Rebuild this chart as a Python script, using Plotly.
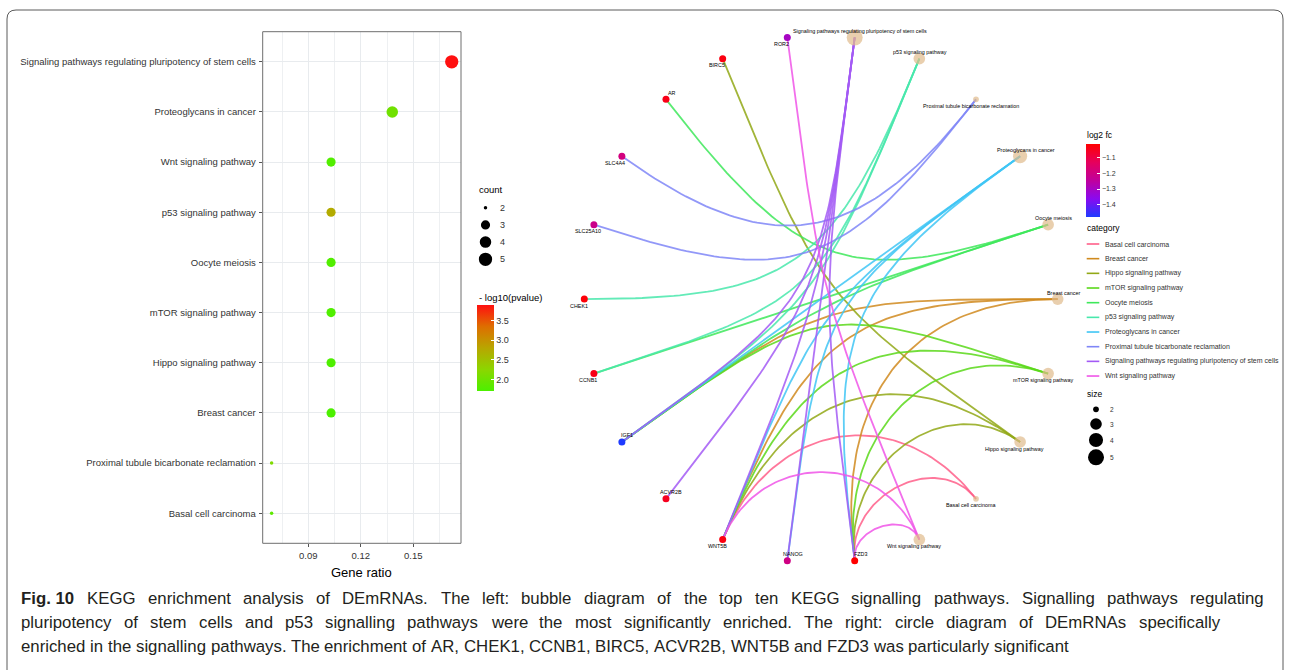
import math
import numpy as np
import plotly.graph_objects as go

W, H = 1289, 670

# ---------------- enrichment results (bubble chart) ----------------
pathways = [
    "Signaling pathways regulating pluripotency of stem cells",
    "Proteoglycans in cancer",
    "Wnt signaling pathway",
    "p53 signaling pathway",
    "Oocyte meiosis",
    "mTOR signaling pathway",
    "Hippo signaling pathway",
    "Breast cancer",
    "Proximal tubule bicarbonate reclamation",
    "Basal cell carcinoma",
]
counts = [5, 4, 3, 3, 3, 3, 3, 3, 2, 2]
gene_ratio = [0.172, 0.138, 0.103, 0.103, 0.103, 0.103, 0.103, 0.103, 0.069, 0.069]
neg_log10_p = [3.89, 2.02, 1.76, 2.74, 1.75, 1.74, 1.73, 1.71, 2.15, 1.86]

ratio_ticks = [0.09, 0.12, 0.15]
ratio_minor = [0.075, 0.105, 0.135, 0.165]
p_ticks = [2.0, 2.5, 3.0, 3.5]
count_breaks = [2, 3, 4, 5]

# ---------------- gene-pathway network ----------------
genes = ["ROR2", "BIRC5", "AR", "SLC4A4", "SLC25A10", "CHEK1",
         "CCNB1", "IGF1", "ACVR2B", "WNT5B", "NANOG", "FZD3"]
log2fc = [-1.30, -1.03, -1.04, -1.19, -1.21, -1.02,
          -1.04, -1.48, -1.05, -1.03, -1.20, -1.01]
fc_ticks = [-1.4, -1.3, -1.2, -1.1]

categories = [
    "Basal cell carcinoma",
    "Breast cancer",
    "Hippo signaling pathway",
    "mTOR signaling pathway",
    "Oocyte meiosis",
    "p53 signaling pathway",
    "Proteoglycans in cancer",
    "Proximal tubule bicarbonate reclamation",
    "Signaling pathways regulating pluripotency of stem cells",
    "Wnt signaling pathway",
]
category_genes = {
    "Signaling pathways regulating pluripotency of stem cells": ["ACVR2B", "WNT5B", "FZD3", "NANOG", "IGF1"],
    "Proteoglycans in cancer": ["IGF1", "WNT5B", "FZD3", "NANOG"],
    "Wnt signaling pathway": ["ROR2", "WNT5B", "FZD3"],
    "p53 signaling pathway": ["CHEK1", "CCNB1", "IGF1"],
    "Oocyte meiosis": ["AR", "CCNB1", "IGF1"],
    "mTOR signaling pathway": ["IGF1", "WNT5B", "FZD3"],
    "Hippo signaling pathway": ["BIRC5", "WNT5B", "FZD3"],
    "Breast cancer": ["IGF1", "WNT5B", "FZD3"],
    "Proximal tubule bicarbonate reclamation": ["SLC4A4", "SLC25A10"],
    "Basal cell carcinoma": ["WNT5B", "FZD3"],
}
size_breaks = [2, 3, 4, 5]

# node order around the circle, counter-clockwise from 3 o'clock
circle_order = [
    "Breast cancer", "Oocyte meiosis", "Proteoglycans in cancer",
    "Proximal tubule bicarbonate reclamation", "p53 signaling pathway",
    "Signaling pathways regulating pluripotency of stem cells",
    "ROR2", "BIRC5", "AR", "SLC4A4", "SLC25A10", "CHEK1", "CCNB1", "IGF1",
    "ACVR2B", "WNT5B", "NANOG", "FZD3",
    "Wnt signaling pathway", "Basal cell carcinoma",
    "Hippo signaling pathway", "mTOR signaling pathway",
]

# ---------------- caption ----------------
caption_label = "Fig. 10"
caption_lines = [
    "KEGG enrichment analysis of DEmRNAs. The left: bubble diagram of the top ten KEGG signalling pathways. Signalling pathways regulating",
    "pluripotency of stem cells and p53 signalling pathways were the most significantly enriched. The right: circle diagram of DEmRNAs specifically",
    "enriched in the signalling pathways. The enrichment of AR, CHEK1, CCNB1, BIRC5, ACVR2B, WNT5B and FZD3 was particularly significant",
]

# ---------------- styling ----------------
cat_colors = {
    "Basal cell carcinoma": "#ff5f8a",
    "Breast cancer": "#d08a1e",
    "Hippo signaling pathway": "#92a816",
    "mTOR signaling pathway": "#5ad81a",
    "Oocyte meiosis": "#3ee85a",
    "p53 signaling pathway": "#48e8ac",
    "Proteoglycans in cancer": "#3fc6f5",
    "Proximal tubule bicarbonate reclamation": "#7f86f7",
    "Signaling pathways regulating pluripotency of stem cells": "#a35af5",
    "Wnt signaling pathway": "#f055e8",
}
# label nudges for node names (direction signs, x right / y up)
label_dir = {
    "Breast cancer": (1, 1), "Oocyte meiosis": (1, 1), "Proteoglycans in cancer": (1, 1),
    "Proximal tubule bicarbonate reclamation": (-1, -1), "p53 signaling pathway": (0.2, 1),
    "Signaling pathways regulating pluripotency of stem cells": (1, 1),
    "ROR2": (-1, -1), "BIRC5": (-1, -1), "AR": (1.1, 1), "SLC4A4": (-1.3, -1),
    "SLC25A10": (-1, -1), "CHEK1": (-1, -1), "CCNB1": (-1, -1), "IGF1": (1, 1),
    "ACVR2B": (1, 1), "WNT5B": (-1, -1), "NANOG": (1, 1), "FZD3": (1, 1),
    "Wnt signaling pathway": (-1, -1), "Basal cell carcinoma": (-1, -1),
    "Hippo signaling pathway": (-1, -1), "mTOR signaling pathway": (-1, -1),
}
FONT = "Liberation Sans, Arial, sans-serif"
TXT = "#333333"

# Arial / Liberation Sans advance widths (1/1000 em) used to justify the caption
_adv = {" ": 278, ",": 278, ".": 278, ":": 278, "-": 333}
_adv.update({d: 556 for d in "0123456789"})
_adv.update(dict(zip("ABCDEFGHIJKLMNOPQRSTUVWXYZ",
                     [667, 667, 722, 722, 667, 611, 778, 722, 278, 500, 667, 556, 833,
                      722, 778, 667, 778, 722, 667, 611, 722, 667, 944, 667, 667, 611])))
_adv.update(dict(zip("abcdefghijklmnopqrstuvwxyz",
                     [556, 556, 500, 556, 556, 278, 556, 556, 222, 222, 500, 222, 833,
                      556, 556, 556, 556, 333, 500, 278, 556, 500, 722, 500, 500, 500])))
_adv_bold = dict(_adv)
_adv_bold.update({"g": 611, "i": 278})


def str_width(s, size, bold=False):
    table = _adv_bold if bold else _adv
    return sum(table.get(ch, 556) for ch in s) * size / 1000.0


def X(px):
    return px / W


def Y(py):
    return 1 - py / H


def rgba(hexcol, a):
    h = hexcol.lstrip("#")
    return "rgba(%d,%d,%d,%.2f)" % (int(h[0:2], 16), int(h[2:4], 16), int(h[4:6], 16), a)


def area_size(c, lo, hi, cmin, cmax):
    return lo + (hi - lo) * math.sqrt((c - cmin) / (cmax - cmin))


fig = go.Figure()
annotations = []
shapes = []


def text(px, py, s, size, color="black", anchor="left", family=FONT):
    annotations.append(dict(x=X(px), y=Y(py), xref="paper", yref="paper", text=s,
                            showarrow=False, xanchor=anchor, yanchor="middle",
                            font=dict(size=size, color=color, family=family)))


# ================= left: bubble chart =================
cmin_c, cmax_c = min(counts), max(counts)
bubble_sizes = [area_size(c, 3.5, 13.3, cmin_c, cmax_c) for c in counts]

fig.add_trace(go.Scatter(
    x=gene_ratio, y=pathways, mode="markers", xaxis="x", yaxis="y",
    marker=dict(size=bubble_sizes, color=neg_log10_p, coloraxis="coloraxis",
                line=dict(width=0), opacity=1),
    showlegend=False, hoverinfo="x+y",
))

left_x0, left_x1 = 262.7, 461.0
left_y0, left_y1 = 31.7, 543.3

shapes.append(dict(type="rect", xref="paper", yref="paper",
                   x0=X(left_x0), x1=X(left_x1), y0=Y(left_y1), y1=Y(left_y0),
                   line=dict(color="#6e6e6e", width=1), layer="above"))

text((left_x0 + left_x1) / 2, 572.7, "Gene ratio", 13, anchor="center")

# count legend
text(476.5, 189, "count", 9.5)
for i, c in enumerate(count_breaks):
    cy = 207.7 + i * 17.2
    d = area_size(c, 3.5, 13.3, cmin_c, cmax_c)
    shapes.append(dict(type="circle", xref="paper", yref="paper", xsizemode="pixel",
                       ysizemode="pixel", xanchor=X(485.5), yanchor=Y(cy),
                       x0=-d / 2, x1=d / 2, y0=-d / 2, y1=d / 2,
                       fillcolor="black", line=dict(width=0)))
    text(498.5, cy, str(c), 9, color=TXT)

text(476.5, 297.5, "- log10(pvalue)", 9.5)

# ================= right: network =================
n_nodes = len(circle_order)
pos = {}
for i, name in enumerate(circle_order):
    a = 2 * math.pi * i / n_nodes
    pos[name] = (math.cos(a), math.sin(a))


def arc(p0, p3, n=80):
    a0 = math.atan2(p0[1], p0[0])
    a3 = math.atan2(p3[1], p3[0])
    d = abs(a0 - a3) % (2 * math.pi)
    if d > math.pi:
        d = 2 * math.pi - d
    k = max(0.0, 1 - 1.37 * d / math.pi)
    p0 = np.array(p0)
    p3 = np.array(p3)
    c1, c2 = p0 * k, p3 * k
    t = np.linspace(0, 1, n)[:, None]
    b = (1 - t) ** 3 * p0 + 3 * (1 - t) ** 2 * t * c1 + 3 * (1 - t) * t ** 2 * c2 + t ** 3 * p3
    return b[:, 0], b[:, 1]


for cat in categories:
    xs, ys = [], []
    for g in category_genes[cat]:
        ax, ay = arc(pos[g], pos[cat])
        xs += list(ax) + [None]
        ys += list(ay) + [None]
    fig.add_trace(go.Scatter(x=xs, y=ys, mode="lines", xaxis="x2", yaxis="y2",
                             line=dict(color=rgba(cat_colors[cat], 0.85), width=1.8),
                             showlegend=False, hoverinfo="skip"))

net_sizes = [area_size(c, 5.7, 16.0, cmin_c, cmax_c) for c in counts]
fig.add_trace(go.Scatter(
    x=[pos[p][0] for p in pathways], y=[pos[p][1] for p in pathways],
    mode="markers", xaxis="x2", yaxis="y2",
    marker=dict(size=net_sizes, color="#dfbb8c", line=dict(width=0)),
    text=pathways, hoverinfo="text", showlegend=False))

fig.add_trace(go.Scatter(
    x=[pos[g][0] for g in genes], y=[pos[g][1] for g in genes],
    mode="markers", xaxis="x2", yaxis="y2",
    marker=dict(size=7, color=log2fc, coloraxis="coloraxis2", line=dict(width=0)),
    text=genes, hoverinfo="text", showlegend=False))

for name in circle_order:
    sx, sy = label_dir[name]
    annotations.append(dict(x=pos[name][0], y=pos[name][1], xref="x2", yref="y2",
                            text=name, showarrow=False, xanchor="center", yanchor="middle",
                            xshift=5.5 * sx, yshift=6.6 * sy,
                            font=dict(size=5.4, color="black", family=FONT)))

cx_px, cy_px, rx_px, ry_px = 821.0, 299.1, 236.7, 264.3
net_x0, net_x1, net_y0, net_y1 = 560.0, 1080.0, 20.0, 580.0
xr = [(net_x0 - cx_px) / rx_px, (net_x1 - cx_px) / rx_px]
yr = [(cy_px - net_y1) / ry_px, (cy_px - net_y0) / ry_px]

# network legends
text(1085, 135, "log2 fc", 8.5)
text(1085, 228.3, "category", 8.5)
for i, cat in enumerate(categories):
    ly = 244 + i * 14.67
    shapes.append(dict(type="line", xref="paper", yref="paper",
                       x0=X(1086.7), x1=X(1099.3), y0=Y(ly), y1=Y(ly),
                       line=dict(color=cat_colors[cat], width=1.6)))
    text(1103.3, ly, cat, 7, color=TXT)
text(1085, 394, "size", 8.5)
for i, s in enumerate(size_breaks):
    ly = [409.3, 424.0, 440.0, 457.3][i]
    d = area_size(s, 5.7, 16.0, min(size_breaks), max(size_breaks))
    shapes.append(dict(type="circle", xref="paper", yref="paper", xsizemode="pixel",
                       ysizemode="pixel", xanchor=X(1096), yanchor=Y(ly),
                       x0=-d / 2, x1=d / 2, y0=-d / 2, y1=d / 2,
                       fillcolor="black", line=dict(width=0)))
    text(1107.5, ly, str(s), 6.5, color=TXT)

# ================= caption (justified) and frame =================
CAP = 16.8
CAP_COL = "#231f20"
cap_left = 19.0
cap_right = [1262.0, 1218.0, None]
cap_y = [598.0, 622.0, 646.0]
for li, line in enumerate(caption_lines):
    x_start = cap_left
    if li == 0:
        text(cap_left, cap_y[0], "<b>%s</b>" % caption_label, CAP, color=CAP_COL)
        x_start = cap_left + str_width(caption_label, CAP, bold=True) + 0.75 * CAP
    words = line.split(" ")
    widths = [str_width(w, CAP) for w in words]
    if cap_right[li] is None:
        gap = str_width(" ", CAP)
    else:
        gap = (cap_right[li] - x_start - sum(widths)) / (len(words) - 1)
    x = x_start
    for w, wd in zip(words, widths):
        text(x, cap_y[li], w, CAP, color=CAP_COL)
        x += wd + gap

fx0, fx1, fy0, fyb, fr = 7, 1283, 10, 720, 9
frame_path = (f"M {X(fx0)},{Y(fyb)} L {X(fx0)},{Y(fy0 + fr)} Q {X(fx0)},{Y(fy0)} {X(fx0 + fr)},{Y(fy0)} "
              f"L {X(fx1 - fr)},{Y(fy0)} Q {X(fx1)},{Y(fy0)} {X(fx1)},{Y(fy0 + fr)} L {X(fx1)},{Y(fyb)}")
shapes.append(dict(type="path", xref="paper", yref="paper", path=frame_path,
                   line=dict(color="#5a5a5a", width=1)))

green_red = [[0.0, "#4cf000"], [0.25, "#8cd600"], [0.5, "#b8a600"], [0.75, "#de6e00"], [1.0, "#ff1010"]]
blue_red = [[0.0, "#1f3bff"], [0.25, "#8a0af0"], [0.5, "#c0009c"], [0.75, "#e6005c"], [1.0, "#ff0000"]]

fig.update_layout(
    width=W, height=H, margin=dict(l=0, r=0, t=0, b=0),
    paper_bgcolor="white", plot_bgcolor="white",
    font=dict(family=FONT, color=TXT),
    xaxis=dict(domain=[X(left_x0), X(left_x1)], range=[0.0639, 0.1773],
               tickvals=ratio_ticks, ticktext=["%.2f" % v for v in ratio_ticks],
               ticks="outside", ticklen=3, tickcolor="#555", tickwidth=1,
               tickfont=dict(size=9.5, color=TXT),
               showgrid=True, gridcolor="#e8ebee", gridwidth=1, zeroline=False,
               minor=dict(tickvals=ratio_minor, showgrid=True, gridcolor="#eef0f2", gridwidth=0.6, ticks=""),
               showline=False, anchor="y"),
    yaxis=dict(domain=[Y(left_y1), Y(left_y0)], type="category",
               categoryorder="array", categoryarray=pathways[::-1], range=[-0.6, 9.6],
               ticks="outside", ticklen=3, tickcolor="#555", tickwidth=1,
               tickfont=dict(size=9.5, color=TXT), showgrid=True, gridcolor="#e8ebee",
               zeroline=False, showline=False, anchor="x", ticklabelstandoff=1),
    xaxis2=dict(domain=[X(net_x0), X(net_x1)], range=xr, visible=False, anchor="y2"),
    yaxis2=dict(domain=[Y(net_y1), Y(net_y0)], range=yr, visible=False, anchor="x2"),
    coloraxis=dict(cmin=min(neg_log10_p), cmax=max(neg_log10_p), colorscale=green_red,
                   colorbar=dict(x=X(476.7), xanchor="left", y=Y(305), yanchor="top",
                                 len=86, lenmode="pixels", thickness=17, thicknessmode="pixels",
                                 xpad=0, ypad=0, outlinewidth=0, ticks="inside", ticklen=3,
                                 tickcolor="white", tickvals=p_ticks, tickformat=".1f",
                                 tickfont=dict(size=9, color=TXT))),
    coloraxis2=dict(cmin=min(log2fc), cmax=max(log2fc), colorscale=blue_red,
                    colorbar=dict(x=X(1085.7), xanchor="left", y=Y(144), yanchor="top",
                                  len=72.7, lenmode="pixels", thickness=13.6, thicknessmode="pixels",
                                  xpad=0, ypad=0, outlinewidth=0, ticks="inside", ticklen=3,
                                  tickcolor="white", tickvals=fc_ticks, tickformat=".1f",
                                  tickfont=dict(size=7, color=TXT))),
    annotations=annotations,
    shapes=shapes,
)

fig.write_html("out.html")
